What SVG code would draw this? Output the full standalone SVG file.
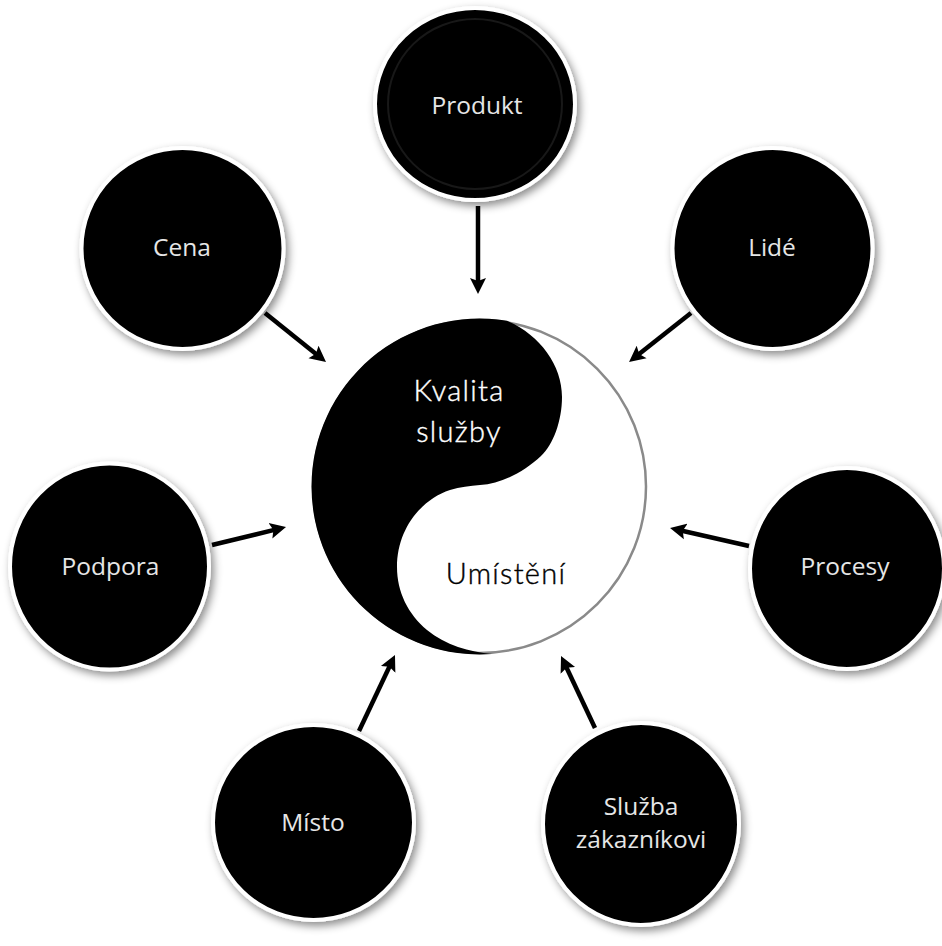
<svg xmlns="http://www.w3.org/2000/svg" width="942" height="946" viewBox="0 0 942 946">
<style>
.disc{fill:#000;stroke:#fff;stroke-width:4;filter:url(#sh)}
.lbl{font-family:"Open Sans","Noto Sans",sans-serif;font-size:24.500px;font-weight:500;fill:#e6e6e6;text-anchor:middle}
.mid{font-family:"Lato","Liberation Sans",sans-serif;font-size:29px;font-weight:300;text-anchor:middle;letter-spacing:1.300px;stroke-width:.4px}
.arr{stroke:#000;stroke-width:4.500;fill:none;marker-end:url(#ah)}
</style>
<defs>
<marker id="ah" markerUnits="userSpaceOnUse" markerWidth="18" markerHeight="18" refX="6" refY="9" orient="auto"><path d="M0 1L16 9L0 17L3 9Z" fill="#000"/></marker>
<filter id="sh" x="-15%" y="-15%" width="130%" height="130%"><feDropShadow dx="3" dy="4" stdDeviation="4" flood-color="#000" flood-opacity=".45"/></filter>
</defs>
<rect width="942" height="946" fill="#fff"/>
<g id="connectors">
<line class="arr" x1="478" y1="206" x2="478" y2="284"/>
<line class="arr" x1="265" y1="313" x2="318.200" y2="355.700"/>
<line class="arr" x1="691" y1="313" x2="636.900" y2="355.800"/>
<line class="arr" x1="212" y1="545" x2="276.300" y2="529.400"/>
<line class="arr" x1="749" y1="546" x2="679.800" y2="530.200"/>
<line class="arr" x1="359" y1="731" x2="390.700" y2="664"/>
<line class="arr" x1="595" y1="728" x2="565.300" y2="665"/>
</g>
<g id="yinyang">
<circle cx="479.500" cy="486.500" r="166.500" fill="#fff" stroke="#8a8a8a" stroke-width="2.500"/>
<path d="M507 320.800A168 168 0 0 0 311.500 486.500A168 168 0 0 0 492 654C470 652 445 645 427 630C408 614 397 592 397 567C397 530 420 500 450 490C460 487 470 486 480 485C502 484 525 471 541 456C553 445 562 421 562 397C562 365 540 335 507 320.800Z" fill="#000"/>
<text class="mid" x="459" y="401" fill="#fff" stroke="#fff">Kvalita</text>
<text class="mid" x="459" y="442" fill="#fff" stroke="#fff">služby</text>
<text class="mid" x="506" y="584" fill="#000" stroke="#000">Umístění</text>
</g>
<g id="produkt"><ellipse class="disc" cx="475" cy="104" rx="100" ry="96"/><ellipse cx="475" cy="104" rx="87" ry="85" fill="none" stroke="#181818" stroke-width="2"/><text class="lbl" x="477" y="114">Produkt</text></g>
<g id="cena"><ellipse class="disc" cx="182.500" cy="248.500" rx="101" ry="100.500"/><text class="lbl" x="182" y="256">Cena</text></g>
<g id="lide"><ellipse class="disc" cx="772.500" cy="248.500" rx="100" ry="100.500"/><text class="lbl" x="772" y="256">Lidé</text></g>
<g id="podpora"><ellipse class="disc" cx="109.500" cy="566.500" rx="99.500" ry="103"/><text class="lbl" x="110.500" y="575">Podpora</text></g>
<g id="procesy"><ellipse class="disc" cx="847" cy="568.500" rx="97" ry="100.500"/><text class="lbl" x="845" y="575">Procesy</text></g>
<g id="misto"><ellipse class="disc" cx="313.500" cy="822.500" rx="100.500" ry="97.500"/><text class="lbl" x="313" y="831">Místo</text></g>
<g id="sluzba"><ellipse class="disc" cx="641" cy="824" rx="98" ry="101"/><text class="lbl" x="641" y="815">Služba</text><text class="lbl" x="641" y="848">zákazníkovi</text></g>
</svg>
